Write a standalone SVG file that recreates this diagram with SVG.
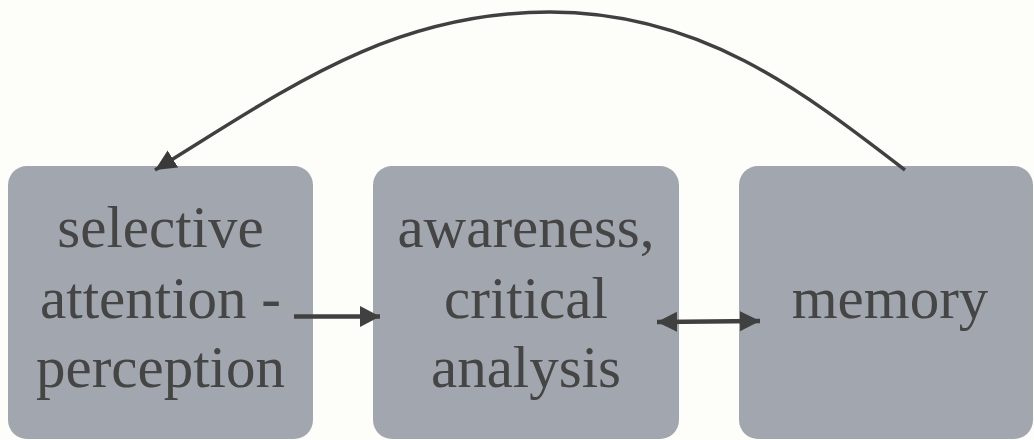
<svg xmlns="http://www.w3.org/2000/svg" width="1034" height="440" viewBox="0 0 1034 440">
  <style>
    .box { fill: #a2a6ae; }
    .lbl { font-family: "Liberation Serif", "Times New Roman", serif; font-size: 59px; fill: #454545; text-anchor: middle; }
    .conn { fill: none; stroke: #404040; stroke-linecap: butt; }
  </style>
  <defs>
    <marker id="ah" markerUnits="userSpaceOnUse" markerWidth="22" markerHeight="22" refX="20" refY="10.5" orient="auto">
      <path d="M0,0 L20,10.5 L0,21 Z" fill="#404040"/>
    </marker>
    <marker id="ahs" markerUnits="userSpaceOnUse" markerWidth="22" markerHeight="22" refX="20" refY="10" orient="auto-start-reverse">
      <path d="M0,0 L20,10 L0,20 Z" fill="#404040"/>
    </marker>
    <marker id="ahc" markerUnits="userSpaceOnUse" markerWidth="24" markerHeight="24" refX="21" refY="10" orient="auto">
      <path d="M0,0 L21,10 L0,20 Z" fill="#3a3a3a"/>
    </marker>
  </defs>
  <rect width="1034" height="440" fill="#fdfdf9"/>
  <g id="node-selective">
    <rect class="box" x="8" y="166" width="305" height="273" rx="19"/>
    <text class="lbl" x="160.5" y="247">selective</text>
    <text class="lbl" x="160.5" y="318">attention -</text>
    <text class="lbl" x="160.5" y="387">perception</text>
  </g>
  <g id="node-awareness">
    <rect class="box" x="373" y="166" width="306" height="273" rx="19"/>
    <text class="lbl" x="526" y="247">awareness,</text>
    <text class="lbl" x="526" y="318">critical</text>
    <text class="lbl" x="526" y="387">analysis</text>
  </g>
  <g id="node-memory">
    <rect class="box" x="739" y="166" width="294" height="273" rx="19"/>
    <text class="lbl" x="890" y="318">memory</text>
  </g>
  <g id="connectors">
    <line class="conn" x1="294" y1="316.5" x2="380" y2="316.5" stroke-width="4.5" marker-end="url(#ah)"/>
    <line class="conn" x1="657" y1="322" x2="760" y2="321" stroke-width="4.5" marker-start="url(#ahs)" marker-end="url(#ahs)"/>
    <path class="conn" d="M905,170 C801,90 700,12 550,12 C390,12 285,90 155,170" stroke-width="3.5" marker-end="url(#ahc)"/>
  </g>
</svg>
